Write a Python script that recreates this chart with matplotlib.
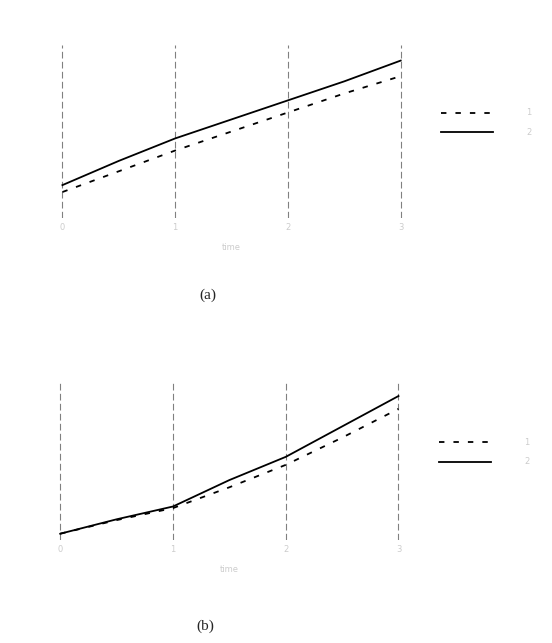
import matplotlib.pyplot as plt
import numpy as np

# grid positions along x
x = [0, 0.5, 1, 1.5, 2, 2.5, 3]
x_ticks = [0, 1, 2, 3]
x_ticklabels = ['0', '1', '2', '3']

# panel (a)
a_solid = [1.9, 3.3, 4.6, 5.7, 6.8, 7.9, 9.1]
a_dashed = [1.5, 2.7, 3.9, 5.0, 6.1, 7.2, 8.2]

# panel (b)
b_solid = [0.4, 1.3, 2.1, 3.75, 5.2, 7.1, 9.0]
b_dashed = [0.4, 1.25, 2.0, 3.3, 4.7, 6.4, 8.2]

legend_labels = ['1', '2']

fig = plt.figure(figsize=(5.52, 6.43), dpi=100)
ax_a = fig.add_axes([0.109, 0.661, 0.621, 0.269])
ax_b = fig.add_axes([0.105, 0.160, 0.621, 0.249])

for ax, solid, dashed, cap, cy in [(ax_a, a_solid, a_dashed, '(a)', -0.445),
                                   (ax_b, b_solid, b_dashed, '(b)', -0.54)]:
    for xt in x_ticks:
        ax.axvline(xt, color='0.5', lw=0.8, ls=(0, (6, 3)), zorder=1)
    d, = ax.plot(x, dashed, color='black', lw=1.3, ls=(0, (3, 5)), zorder=3)
    s, = ax.plot(x, solid, color='black', lw=1.3, zorder=3)
    ax.set_xlim(-0.02, 3.02)
    ax.set_ylim(0, 10)
    for sp in ax.spines.values():
        sp.set_visible(False)
    ax.set_xticks(x_ticks)
    ax.set_xticklabels(x_ticklabels, color='0.8', fontsize=6)
    ax.set_yticks([])
    ax.tick_params(length=0)
    ax.set_xlabel('time', color='0.8', fontsize=6, labelpad=8)
    ax.legend([d, s], legend_labels, loc='center left', bbox_to_anchor=(1.09, 0.55),
              frameon=False, handlelength=6.2, fontsize=6, labelcolor='0.8',
              handletextpad=4.0, labelspacing=1.3)
    ax.text(0.43, cy, cap, transform=ax.transAxes,
            ha='center', va='center', family='Liberation Serif', fontsize=11, color='0.15')

plt.savefig('out.png', dpi=100)
